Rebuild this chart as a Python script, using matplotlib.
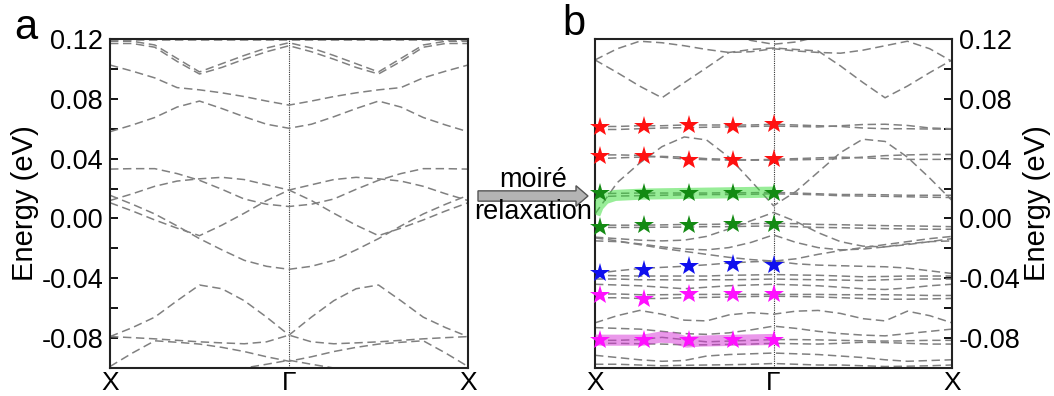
import numpy as np
import matplotlib
matplotlib.use("Agg")
import matplotlib.pyplot as plt
from matplotlib.ticker import MultipleLocator, FormatStrFormatter
from matplotlib.patches import FancyArrow
from matplotlib.transforms import blended_transform_factory

plt.rcParams['font.family'] = ['Liberation Sans', 'DejaVu Sans']
plt.rcParams['axes.unicode_minus'] = False

# ---------------- k-path ----------------
k_labels = ["X", "Γ", "X"]
k_label_pos = [0.0, 0.5, 1.0]
k_half = [0.0, 0.0625, 0.125, 0.1875, 0.25, 0.3125, 0.375, 0.4375, 0.5]
k_full = [0.0, 0.0625, 0.125, 0.1875, 0.25, 0.3125, 0.375, 0.4375, 0.5,
          0.5625, 0.625, 0.6875, 0.75, 0.8125, 0.875, 0.9375, 1.0]

energy_ticks = [-0.08, -0.04, 0.00, 0.04, 0.08, 0.12]

# ---------------- panel a: rigid bands (X -> Gamma, mirrored to X) ----------------
a_top_flat = [0.1193, 0.1193, 0.1193, 0.1193, 0.1193, 0.1193, 0.1193, 0.1193, 0.1193]
a_top_v1 = [0.117, 0.117, 0.1145, 0.105, 0.0966, 0.101, 0.1065, 0.1115, 0.1155]
a_top_v2 = [0.1185, 0.1185, 0.116, 0.107, 0.0980, 0.1035, 0.109, 0.1140, 0.1175]
a_band_l = [0.1026, 0.0985, 0.0940, 0.0875, 0.0860, 0.0840, 0.0815, 0.0785, 0.0758]
a_band_m = [0.0580, 0.0625, 0.0675, 0.0745, 0.0785, 0.0735, 0.0680, 0.0630, 0.0603]
a_band_1 = [0.0330, 0.0333, 0.0333, 0.0300, 0.0255, 0.0195, 0.0130, 0.0095, 0.0080]
a_band_2 = [0.0120, 0.0165, 0.0215, 0.0250, 0.0265, 0.0275, 0.0260, 0.0225, 0.0190]
a_band_3 = [0.0105, 0.0050, -0.0010, -0.0065, -0.0115, -0.0045, 0.0035, 0.0120, 0.0190]
a_band_4 = [0.0155, 0.0095, 0.0030, -0.0050, -0.0135, -0.0210, -0.0280, -0.0320, -0.0340]
a_band_5 = [-0.0790, -0.0730, -0.0660, -0.0550, -0.0445, -0.0470, -0.0550, -0.0660, -0.0780]
a_band_6 = [-0.0790, -0.0797, -0.0805, -0.0815, -0.0825, -0.0832, -0.0838, -0.0825, -0.0780]
a_band_7 = [-0.0990, -0.0900, -0.0818, -0.0828, -0.0840, -0.0862, -0.0890, -0.0925, -0.0955]
a_band_8 = [-0.1150, -0.1130, -0.1110, -0.1090, -0.1070, -0.1040, -0.1000, -0.0975, -0.0948]

bands_a = [a_top_flat, a_top_v1, a_top_v2, a_band_l, a_band_m, a_band_1, a_band_2,
           a_band_3, a_band_4, a_band_5, a_band_6, a_band_7, a_band_8]

# ---------------- panel b: relaxed bands along X - Gamma - X ----------------
b_top_p = [0.106, 0.1135, 0.1185, 0.1175, 0.1155, 0.113, 0.111, 0.1115, 0.1135,
           0.112, 0.111, 0.1105, 0.1125, 0.1155, 0.1185, 0.1135, 0.105]
b_top_q = [0.106, 0.0975, 0.0885, 0.0807, 0.0908, 0.1008, 0.111, 0.113, 0.114,
           0.113, 0.112, 0.102, 0.091, 0.0807, 0.0885, 0.0975, 0.106]
b_top_r = [0.13, 0.13, 0.13, 0.13, 0.13, 0.128, 0.1235, 0.119, 0.1165,
           0.118, 0.1215, 0.126, 0.13, 0.13, 0.13, 0.13, 0.13]
b_red_1 = [0.0615, 0.0615, 0.062, 0.062, 0.0625, 0.0625, 0.0625, 0.0625, 0.063,
           0.0625, 0.062, 0.0615, 0.0605, 0.060, 0.060, 0.0598, 0.0598]
b_red_2 = [0.0595, 0.0595, 0.060, 0.0605, 0.0607, 0.061, 0.0612, 0.0615, 0.0618,
           0.0615, 0.0612, 0.062, 0.0628, 0.063, 0.0622, 0.0605, 0.060]
b_red_3 = [0.0425, 0.0425, 0.0422, 0.041, 0.0398, 0.0393, 0.039, 0.039, 0.039,
           0.0392, 0.0395, 0.040, 0.041, 0.042, 0.0425, 0.0428, 0.0428]
b_red_4 = [0.040, 0.0405, 0.041, 0.0415, 0.041, 0.040, 0.0395, 0.0392, 0.0395,
           0.040, 0.0405, 0.041, 0.0405, 0.040, 0.0395, 0.0395, 0.0395]
b_arc = [0.003, 0.024, 0.037, 0.048, 0.0545, 0.0525, 0.041, 0.025, 0.0085,
         0.018, 0.031, 0.044, 0.053, 0.0515, 0.041, 0.027, 0.012]
b_green_1 = [0.0165, 0.0168, 0.017, 0.017, 0.017, 0.017, 0.0172, 0.0172, 0.0175,
             0.017, 0.0165, 0.016, 0.016, 0.0158, 0.0155, 0.0155, 0.0155]
b_green_2 = [0.0145, 0.015, 0.0152, 0.0155, 0.0158, 0.016, 0.016, 0.0162, 0.0165,
             0.0162, 0.0158, 0.0152, 0.015, 0.0148, 0.0145, 0.0142, 0.014]
b_green_3 = [-0.0045, -0.0045, -0.0045, -0.0043, -0.004, -0.004, -0.0037, -0.0035, -0.0033,
             -0.0035, -0.004, -0.0042, -0.0045, -0.0048, -0.005, -0.0052, -0.0055]
b_green_4 = [-0.006, -0.006, -0.006, -0.0058, -0.0058, -0.0055, -0.0055, -0.0052, -0.005,
             -0.0055, -0.006, -0.0062, -0.0065, -0.0068, -0.007, -0.0072, -0.0072]
b_mid_1 = [-0.015, -0.0155, -0.017, -0.019, -0.0205, -0.021, -0.0195, -0.016, -0.011,
           -0.016, -0.0195, -0.021, -0.0205, -0.019, -0.017, -0.0155, -0.015]
b_mid_2 = [-0.0125, -0.0135, -0.0145, -0.015, -0.0145, -0.012, -0.007, -0.0015, 0.004,
           -0.002, -0.0095, -0.0155, -0.0185, -0.019, -0.0175, -0.0155, -0.0135]
b_blue_1 = [-0.0368, -0.035, -0.0335, -0.0327, -0.032, -0.031, -0.0298, -0.029, -0.0285,
            -0.0303, -0.0312, -0.0316, -0.032, -0.0323, -0.0332, -0.035, -0.0368]
b_blue_2 = [-0.013, -0.015, -0.0175, -0.020, -0.022, -0.024, -0.026, -0.0275, -0.0285,
            -0.027, -0.024, -0.0215, -0.0195, -0.0175, -0.0155, -0.0135, -0.012]
b_blue_3 = [-0.038, -0.0383, -0.0385, -0.0385, -0.0385, -0.0385, -0.038, -0.0378, -0.0375,
            -0.0378, -0.038, -0.0385, -0.039, -0.0388, -0.0385, -0.0385, -0.0385]
b_blue_4 = [-0.0405, -0.0405, -0.041, -0.041, -0.0412, -0.041, -0.041, -0.0408, -0.0405,
            -0.0408, -0.041, -0.0412, -0.0415, -0.041, -0.0405, -0.0405, -0.0405]
b_blue_5 = [-0.044, -0.0445, -0.045, -0.046, -0.047, -0.046, -0.045, -0.0445, -0.044,
            -0.0445, -0.045, -0.046, -0.047, -0.0475, -0.0465, -0.045, -0.044]
b_mag_1 = [-0.0505, -0.0505, -0.051, -0.051, -0.0508, -0.0508, -0.0508, -0.0508, -0.0508,
           -0.0508, -0.0508, -0.051, -0.051, -0.051, -0.0512, -0.0515, -0.0515]
b_mag_2 = [-0.053, -0.053, -0.0535, -0.0535, -0.053, -0.0528, -0.0525, -0.0522, -0.052,
           -0.0522, -0.0525, -0.053, -0.0535, -0.054, -0.054, -0.0538, -0.0535]
b_low_1 = [-0.0698, -0.065, -0.0615, -0.064, -0.068, -0.0685, -0.0645, -0.063, -0.064,
           -0.062, -0.0615, -0.0635, -0.067, -0.0685, -0.062, -0.065, -0.0698]
b_low_2 = [-0.073, -0.0735, -0.074, -0.0755, -0.077, -0.0775, -0.0765, -0.0745, -0.072,
           -0.0735, -0.0755, -0.077, -0.078, -0.0785, -0.077, -0.0755, -0.074]
b_mag_3 = [-0.0815, -0.0815, -0.081, -0.0795, -0.081, -0.0825, -0.082, -0.0815, -0.081,
           -0.081, -0.0812, -0.0815, -0.0818, -0.082, -0.0818, -0.0815, -0.0815]
b_mag_4 = [-0.0835, -0.0835, -0.0838, -0.084, -0.0845, -0.0845, -0.0842, -0.084, -0.0835,
           -0.0838, -0.084, -0.0835, -0.0828, -0.083, -0.0835, -0.084, -0.084]
b_bot_1 = [-0.0915, -0.093, -0.0945, -0.0955, -0.095, -0.092, -0.091, -0.0905, -0.090,
           -0.0905, -0.091, -0.092, -0.093, -0.0945, -0.0955, -0.095, -0.0945]
b_bot_2 = [-0.0975, -0.0975, -0.098, -0.0985, -0.0982, -0.098, -0.0978, -0.0975, -0.097,
           -0.0975, -0.098, -0.098, -0.0985, -0.099, -0.0988, -0.0985, -0.098]

bands_b = [b_top_p, b_top_q, b_top_r, b_red_1, b_red_2, b_red_3, b_red_4, b_arc,
           b_green_1, b_green_2, b_green_3, b_green_4, b_mid_1, b_mid_2,
           b_blue_1, b_blue_2, b_blue_3, b_blue_4, b_blue_5, b_mag_1, b_mag_2,
           b_low_1, b_low_2, b_mag_3, b_mag_4, b_bot_1, b_bot_2]

# ---------------- highlighted flat bands ----------------
flat_green_k = [0.0, 0.0093, 0.028, 0.056, 0.135, 0.5]
flat_green_e = [0.0027, 0.0083, 0.0132, 0.0154, 0.0163, 0.0176]
flat_mag_k = [0.0, 0.135, 0.182, 0.219, 0.257, 0.294, 0.5]
flat_mag_e = [-0.0814, -0.0814, -0.0794, -0.0798, -0.0827, -0.082, -0.0809]

# ---------------- star markers on the flat bands ----------------
star_k = [0.014, 0.137, 0.264, 0.386, 0.5]
stars_red_1 = [0.0613, 0.0618, 0.0623, 0.0618, 0.0629]
stars_red_2 = [0.0417, 0.0417, 0.0391, 0.0391, 0.0400]
stars_green_1 = [0.0168, 0.0168, 0.0168, 0.0172, 0.0172]
stars_green_2 = [-0.0056, -0.0047, -0.0047, -0.0040, -0.0040]
stars_blue = [-0.0363, -0.0345, -0.0319, -0.0307, -0.0314]
stars_mag_1 = [-0.0515, -0.0537, -0.0508, -0.0508, -0.0508]
stars_mag_2 = [-0.0814, -0.0814, -0.0814, -0.0814, -0.0810]

star_rows = [(stars_red_1, "#ff1010"), (stars_red_2, "#ff1010"),
             (stars_green_1, "#138a13"), (stars_green_2, "#138a13"),
             (stars_blue, "#1010ee"),
             (stars_mag_1, "#ff10ff"), (stars_mag_2, "#ff10ff")]

BAND_COLOR = "#808080"
DASH = (5.5, 3.0)
FS_TICK = 19.5
FS_LABEL = 21
FS_K = 19


def style_axes(ax, side, fig):
    ax.set_xlim(0, 1)
    ax.set_ylim(-0.10, 0.12)
    ax.set_yticks(energy_ticks)
    ax.yaxis.set_major_formatter(FormatStrFormatter("%.2f"))
    ax.yaxis.set_minor_locator(MultipleLocator(0.02))
    ax.set_xticks([])
    # high-symmetry point labels, baseline just above the bottom edge
    trans = blended_transform_factory(ax.transData, fig.transFigure)
    for pos, lab in zip(k_label_pos, k_labels):
        ax.text(pos, 5.5 / 396, lab, transform=trans, ha="center", va="baseline",
                fontsize=FS_K)
    ax.tick_params(axis="y", which="both", direction="in", length=6, width=1.3,
                   labelsize=FS_TICK, pad=5)
    if side == "right":
        ax.yaxis.tick_right()
        ax.yaxis.set_label_position("right")
        ax.set_ylabel("Energy (eV)", fontsize=FS_LABEL, rotation=90, labelpad=2)
    else:
        ax.set_ylabel("Energy (eV)", fontsize=FS_LABEL, labelpad=2)
    for sp in ax.spines.values():
        sp.set_linewidth(1.5)
        sp.set_color("#222222")
    ax.axvline(0.5, color="#333333", lw=0.8, ls=(0, (1, 1)), zorder=1)


fig = plt.figure(figsize=(10.54, 3.96), dpi=100)
ax_a = fig.add_axes([110 / 1054, 1 - 368 / 396, 358 / 1054, 329 / 396])
ax_b = fig.add_axes([595 / 1054, 1 - 368 / 396, 357 / 1054, 329 / 396])

# panel a: mirror each half-path band about Gamma
for half in bands_a:
    full = list(half) + list(half[-2::-1])
    ax_a.plot(k_full, full, color=BAND_COLOR, lw=1.1, dashes=DASH, zorder=2)
style_axes(ax_a, "left", fig)

# panel b
for band in bands_b:
    ax_b.plot(k_full, band, color=BAND_COLOR, lw=1.1, dashes=DASH, zorder=2)
ax_b.plot(flat_green_k, flat_green_e, color="#33dd33", lw=8, alpha=0.5,
          solid_capstyle="butt", zorder=3)
ax_b.plot(flat_mag_k, flat_mag_e, color="#d633d6", lw=8, alpha=0.5,
          solid_capstyle="butt", zorder=3)
for vals, col in star_rows:
    ax_b.plot(star_k, vals, ls="none", marker="*", ms=15, color=col,
              markeredgewidth=0, zorder=5, clip_on=False)
style_axes(ax_b, "right", fig)

# panel letters
fig.text(14 / 1054, 1 - 28 / 396, "a", fontsize=30, va="center", ha="left")
fig.text(562 / 1054, 1 - 24 / 396, "b", fontsize=30, va="center", ha="left")

# arrow between panels
arrow = FancyArrow(478 / 1054, 1 - 196 / 396, 98 / 1054, 0, width=0.026,
                   head_width=0.052, head_length=12 / 1054, length_includes_head=False,
                   transform=fig.transFigure, facecolor="#b4b4b4",
                   edgecolor="#555555", lw=1.0)
fig.patches.append(arrow)
fig.text(533 / 1054, 1 - 180 / 396, "moiré", fontsize=FS_TICK, ha="center", va="center")
fig.text(533 / 1054, 1 - 212 / 396, "relaxation", fontsize=FS_TICK, ha="center", va="center")

fig.savefig("out.png", dpi=100)
